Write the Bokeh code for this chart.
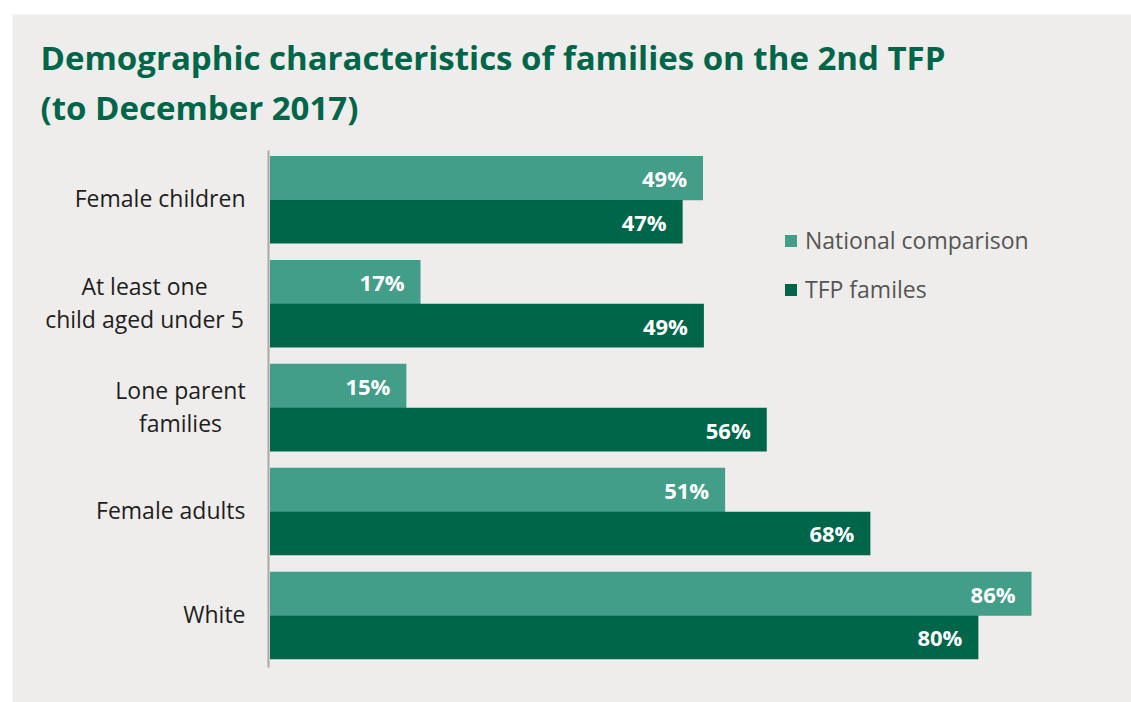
from bokeh.plotting import figure
from bokeh.models import (Range1d, ColumnDataSource, LabelSet, Label, Legend, LegendItem)
from bokeh.core.properties import value
from bokeh.embed import file_html
from bokeh.resources import INLINE
from bokeh.transform import dodge

# ---- data (bar lengths; labels show rounded values) ----
categories = ["Female children", "At least one\nchild aged under 5", "Lone parent\nfamilies",
              "Female adults", "White"]
national = [48.9, 17.0, 15.4, 51.4, 86.0]
tfp = [46.6, 49.0, 56.1, 67.8, 80.0]
series_names = ["National comparison", "TFP familes"]
title_lines = ["Demographic characteristics of families on the 2nd TFP", "(to December 2017)"]

C_NAT = "#429E89"
C_TFP = "#00664A"
BG = "#EFEDEB"

ypos = list(range(len(categories)))
src = ColumnDataSource(dict(
    y=ypos, nat=national, tfp=tfp,
    nat_lbl=[f"{v:.0f}%" for v in national], tfp_lbl=[f"{v:.0f}%" for v in tfp]))

# the plot frame covers the whole canvas; 0% sits ~258px from its left edge
p = figure(width=1119, height=688, output_backend="svg", toolbar_location=None,
           x_range=Range1d(-29.08, 97.29), y_range=Range1d(4.837, -1.785),
           min_border=0, background_fill_color=BG, border_fill_color=BG,
           outline_line_color=None, margin=(14, 0, 0, 12))
p.axis.visible = False
p.grid.visible = False

# category axis line
p.segment(x0=-0.17, x1=-0.17, y0=ypos[0] - 0.476, y1=ypos[-1] + 0.5,
          line_color="#A8A8A8", line_width=2)

r1 = p.hbar(y=dodge("y", -0.21, range=p.y_range), right="nat", left=0, height=0.425,
            source=src, fill_color=C_NAT, line_color=None)
r2 = p.hbar(y=dodge("y", 0.21, range=p.y_range), right="tfp", left=0, height=0.42,
            source=src, fill_color=C_TFP, line_color=None)

for col, lbl, off in [("nat", "nat_lbl", -0.21), ("tfp", "tfp_lbl", 0.21)]:
    p.add_layout(LabelSet(x=col, y=dodge("y", off, range=p.y_range), text=lbl, source=src,
                          x_offset=-16, text_align="right", text_baseline="middle",
                          text_color="white", text_font=value("Open Sans"),
                          text_font_style="bold", text_font_size="22px"))

# category labels
centers = {1: 132, 2: 168}
for i, cat in enumerate(categories):
    lines = cat.split("\n")
    if len(lines) == 1:
        p.add_layout(Label(x=233, y=i, x_units="screen", y_offset=2, text=lines[0],
                           text_align="right", text_baseline="middle", text_font="Open Sans",
                           text_font_size="23px", text_color="#1E1E1E"))
    else:
        n = len(lines)
        for k, ln in enumerate(lines):
            p.add_layout(Label(x=centers.get(i, 130), y=i, x_units="screen",
                               y_offset=(k - (n - 1) / 2) * -33 + 1,
                               text=ln, text_align="center", text_baseline="middle",
                               text_font="Open Sans", text_font_size="23px", text_color="#1E1E1E"))

# title
for k, t in enumerate(title_lines):
    p.add_layout(Label(x=28, y=645 - k * 50, x_units="screen", y_units="screen", text=t,
                       text_font="Open Sans", text_font_style="bold", text_font_size="33px",
                       text_color=C_TFP, text_baseline="alphabetic"))

legend = Legend(items=[LegendItem(label=series_names[0], renderers=[r1]),
                       LegendItem(label=series_names[1], renderers=[r2])],
                location=(771, 397), orientation="vertical",
                background_fill_alpha=0, border_line_color=None,
                glyph_width=15, glyph_height=15, label_height=23, spacing=17,
                padding=0, margin=0, label_standoff=7,
                label_text_font="Open Sans", label_text_font_size="23px",
                label_text_color="#555555")
p.add_layout(legend)

open("out.html", "w").write(file_html(p, INLINE))
